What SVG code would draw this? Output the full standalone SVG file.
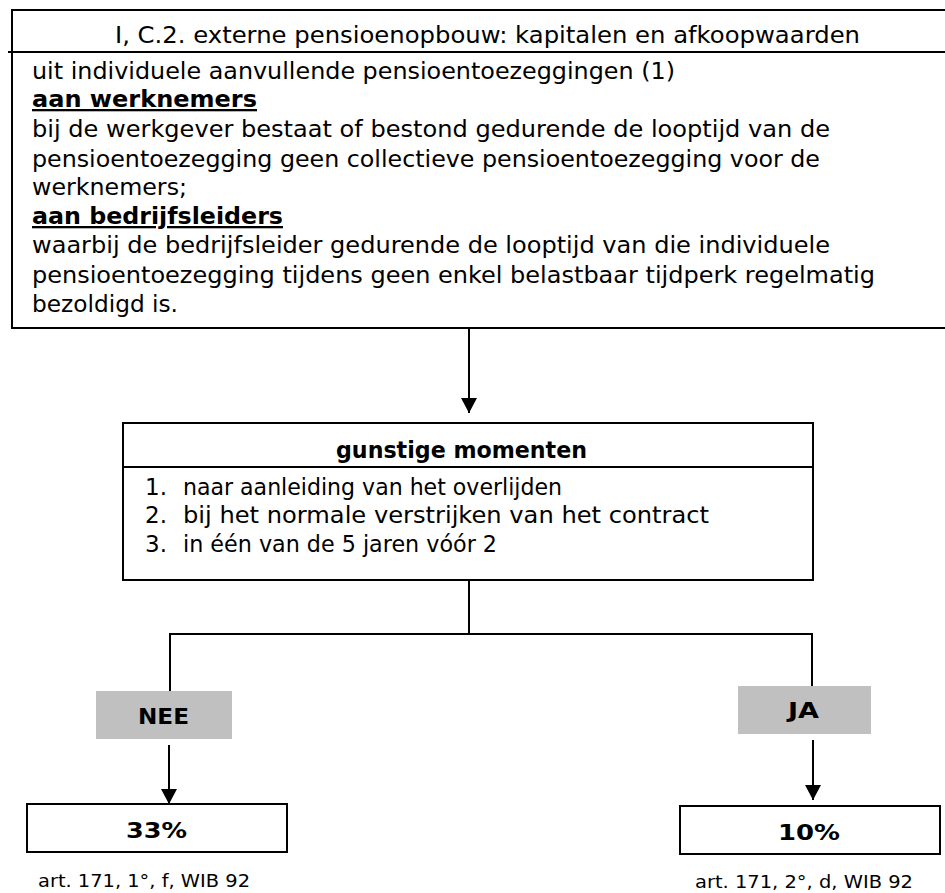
<svg xmlns="http://www.w3.org/2000/svg" width="945" height="893" viewBox="0 0 945 893">
<style>
  .t { font-family: "DejaVu Sans", Verdana, sans-serif; font-size: 23px; fill: #000; }
  .b { font-weight: bold; }
  .u { text-decoration: underline; }
  .l { font-size: 22px; }
  .s { font-size: 18.5px; }
  .box { fill: #fff; stroke: #000; stroke-width: 2; }
  .gray { fill: #c0c0c0; stroke: none; }
  .ln { fill: none; stroke: #000; stroke-width: 2; }
</style>
<defs>
  <marker id="ah" markerUnits="userSpaceOnUse" markerWidth="16" markerHeight="16" refX="15" refY="8" orient="auto">
    <path d="M0,0 L15,8 L0,16 Z" fill="#000"/>
  </marker>
</defs>
<rect width="945" height="893" fill="#fff"/>

<g id="top-box">
  <path class="ln" d="M947,10 H12 V328 H947"/>
  <path class="ln" d="M8,52 H947"/>
  <text class="t" x="115" y="43" textLength="745" lengthAdjust="spacingAndGlyphs">I, C.2. externe pensioenopbouw: kapitalen en afkoopwaarden</text>
  <text class="t" x="32" y="79" textLength="643" lengthAdjust="spacingAndGlyphs">uit individuele aanvullende pensioentoezeggingen (1)</text>
  <text class="t b u" x="32" y="107" textLength="225" lengthAdjust="spacingAndGlyphs">aan werknemers</text>
  <text class="t" x="32" y="137" textLength="798" lengthAdjust="spacingAndGlyphs">bij de werkgever bestaat of bestond gedurende de looptijd van de</text>
  <text class="t" x="32" y="167" textLength="788" lengthAdjust="spacingAndGlyphs">pensioentoezegging geen collectieve pensioentoezegging voor de</text>
  <text class="t" x="32" y="195" textLength="155" lengthAdjust="spacingAndGlyphs">werknemers;</text>
  <text class="t b u" x="32" y="224" textLength="251" lengthAdjust="spacingAndGlyphs">aan bedrijfsleiders</text>
  <text class="t" x="32" y="253" textLength="798" lengthAdjust="spacingAndGlyphs">waarbij de bedrijfsleider gedurende de looptijd van die individuele</text>
  <text class="t" x="32" y="283" textLength="843" lengthAdjust="spacingAndGlyphs">pensioentoezegging tijdens geen enkel belastbaar tijdperk regelmatig</text>
  <text class="t" x="32" y="312" textLength="146" lengthAdjust="spacingAndGlyphs">bezoldigd is.</text>
</g>

<g id="gunstige-momenten">
  <rect class="box" x="123" y="423" width="690" height="157"/>
  <line class="ln" x1="123" y1="467" x2="813" y2="467"/>
  <text class="t b" x="336" y="458" textLength="251" lengthAdjust="spacingAndGlyphs">gunstige momenten</text>
  <text class="t" x="145" y="495">1.</text>
  <text class="t" x="183" y="495" textLength="379" lengthAdjust="spacingAndGlyphs">naar aanleiding van het overlijden</text>
  <text class="t" x="145" y="523">2.</text>
  <text class="t" x="183" y="523" textLength="526" lengthAdjust="spacingAndGlyphs">bij het normale verstrijken van het contract</text>
  <text class="t" x="145" y="552">3.</text>
  <text class="t" x="183" y="552" textLength="314" lengthAdjust="spacingAndGlyphs">in één van de 5 jaren vóór 2</text>
</g>

<g id="nee">
  <rect class="gray" x="96" y="691" width="136" height="48"/>
  <text class="t b l" x="138" y="724" textLength="51" lengthAdjust="spacingAndGlyphs">NEE</text>
</g>

<g id="ja">
  <rect class="gray" x="738" y="686" width="133" height="48"/>
  <text class="t b l" x="788" y="718" textLength="31" lengthAdjust="spacingAndGlyphs">JA</text>
</g>

<g id="result-33">
  <rect class="box" x="27" y="804" width="260" height="48"/>
  <text class="t b l" x="126" y="838" textLength="61" lengthAdjust="spacingAndGlyphs">33%</text>
  <text class="t s" x="38" y="887" textLength="212" lengthAdjust="spacingAndGlyphs">art. 171, 1°, f, WIB 92</text>
</g>

<g id="result-10">
  <rect class="box" x="680" y="806" width="260" height="48"/>
  <text class="t b l" x="778" y="840" textLength="62" lengthAdjust="spacingAndGlyphs">10%</text>
  <text class="t s" x="695" y="888" textLength="218" lengthAdjust="spacingAndGlyphs">art. 171, 2°, d, WIB 92</text>
</g>

<g id="connectors">
  <line class="ln" x1="469" y1="329" x2="469" y2="413" marker-end="url(#ah)"/>
  <path class="ln" d="M469,580 V634 M170,691 V634 H812 V686"/>
  <line class="ln" x1="169" y1="745" x2="169" y2="804" marker-end="url(#ah)"/>
  <line class="ln" x1="813" y1="740" x2="813" y2="800" marker-end="url(#ah)"/>
</g>
</svg>
